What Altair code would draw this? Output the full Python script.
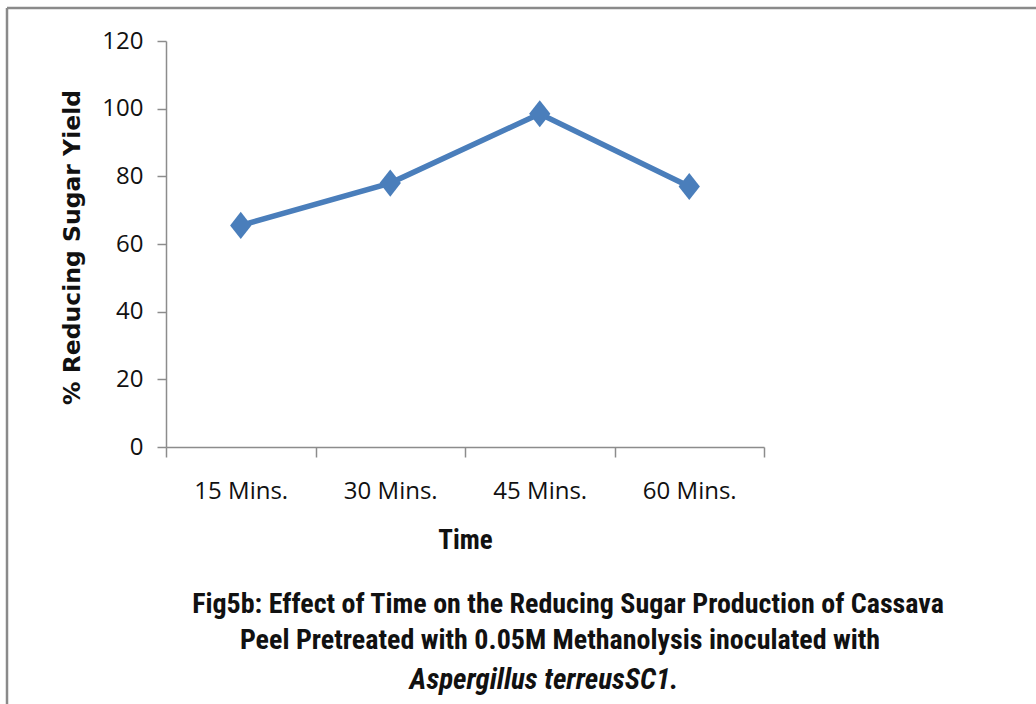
import altair as alt
import pandas as pd

# Reducing sugar yield over pretreatment time
times = ["15 Mins.", "30 Mins.", "45 Mins.", "60 Mins."]
yields = [65.5, 78.0, 98.5, 77.0]
y_ticks = [0, 20, 40, 60, 80, 100, 120]

caption_lines = [
    "Fig5b: Effect of Time on the Reducing Sugar Production  of Cassava",
    "Peel Pretreated with 0.05M Methanolysis inoculated with",
]
caption_species = "Aspergillus terreusSC1."

df = pd.DataFrame({"Time": times, "Yield": yields})

BLUE = "#4a7ebb"
AXIS_GREY = "#8c8c8c"
TICK_FONT = "Open Sans"
COND_FONT = "Roboto Condensed, Liberation Sans Narrow, Liberation Sans"

x_enc = alt.X(
    "Time:N",
    sort=times,
    scale=alt.Scale(type="band", paddingInner=0, paddingOuter=0),
    axis=alt.Axis(
        title="Time",
        labelAngle=0,
        tickBand="extent",
        tickSize=10,
        labelPadding=22,
        labelFontSize=24,
        labelFont=TICK_FONT,
        labelColor="#111",
        titleFont=COND_FONT,
        titleFontSize=27,
        titleFontWeight="bold",
        titleColor="#111",
        titleX=299,
        titleY=93,
        titleBaseline="middle",
        domainColor=AXIS_GREY,
        tickColor=AXIS_GREY,
        domainWidth=1.5,
        tickWidth=1.5,
    ),
)
y_enc = alt.Y(
    "Yield:Q",
    scale=alt.Scale(domain=[0, 120], nice=False),
    axis=alt.Axis(
        title="% Reducing Sugar Yield",
        values=y_ticks,
        grid=False,
        tickSize=9,
        labelPadding=14,
        labelFontSize=24,
        labelFont=TICK_FONT,
        labelColor="#111",
        titleFont="DejaVu Sans",
        titleFontSize=23.5,
        titleFontWeight="bold",
        titleColor="#111",
        titleAngle=-90,
        titleX=-94,
        titleY=206,
        titleAlign="center",
        titleBaseline="middle",
        domainColor=AXIS_GREY,
        tickColor=AXIS_GREY,
        domainWidth=1.5,
        tickWidth=1.5,
    ),
)

base = alt.Chart(df)
line = base.mark_line(color=BLUE, strokeWidth=5.5).encode(x=x_enc, y=y_enc)
points = base.mark_point(
    shape="M0,-1.15L0.9,0L0,1.15L-0.9,0Z",
    filled=True,
    opacity=1,
    color=BLUE,
    size=560,
).encode(x=x_enc, y=y_enc)

# Caption beneath the chart
cap_df = pd.DataFrame({"line": caption_lines, "cx": [402, 394], "cy": [564, 600]})
caption = alt.Chart(cap_df).mark_text(
    font=COND_FONT,
    fontSize=28,
    fontWeight="bold",
    color="#111",
    align="center",
    baseline="middle",
).encode(
    text="line:N",
    x=alt.X("cx:Q", scale=None),
    y=alt.Y("cy:Q", scale=None),
)
species = alt.Chart(alt.Data(values=[{"line": caption_species}])).mark_text(
    font=COND_FONT,
    fontSize=29,
    fontWeight="bold",
    fontStyle="italic",
    color="#111",
    align="center",
    baseline="middle",
).encode(text="line:N", x=alt.value(378), y=alt.value(639))

# Frame edges (top and left) around the figure
frame = alt.Data(values=[{}])
top_edge = alt.Chart(frame).mark_rule(color="#8a8a8a", strokeWidth=2.5).encode(
    x=alt.value(-159), x2=alt.value(880), y=alt.value(-33)
)
left_edge = alt.Chart(frame).mark_rule(color="#8a8a8a", strokeWidth=2.5).encode(
    x=alt.value(-159), y=alt.value(-33), y2=alt.value(670)
)

chart = (
    alt.layer(line, points, caption, species, top_edge, left_edge)
    .properties(
        width=598,
        height=406,
        autosize=alt.AutoSizeParams(type="none"),
        padding={"left": 166, "top": 41, "right": 272, "bottom": 257},
        background="white",
    )
    .configure_view(stroke=None)
)

chart.save("out.html", embed_options={"renderer": "svg", "actions": False})
